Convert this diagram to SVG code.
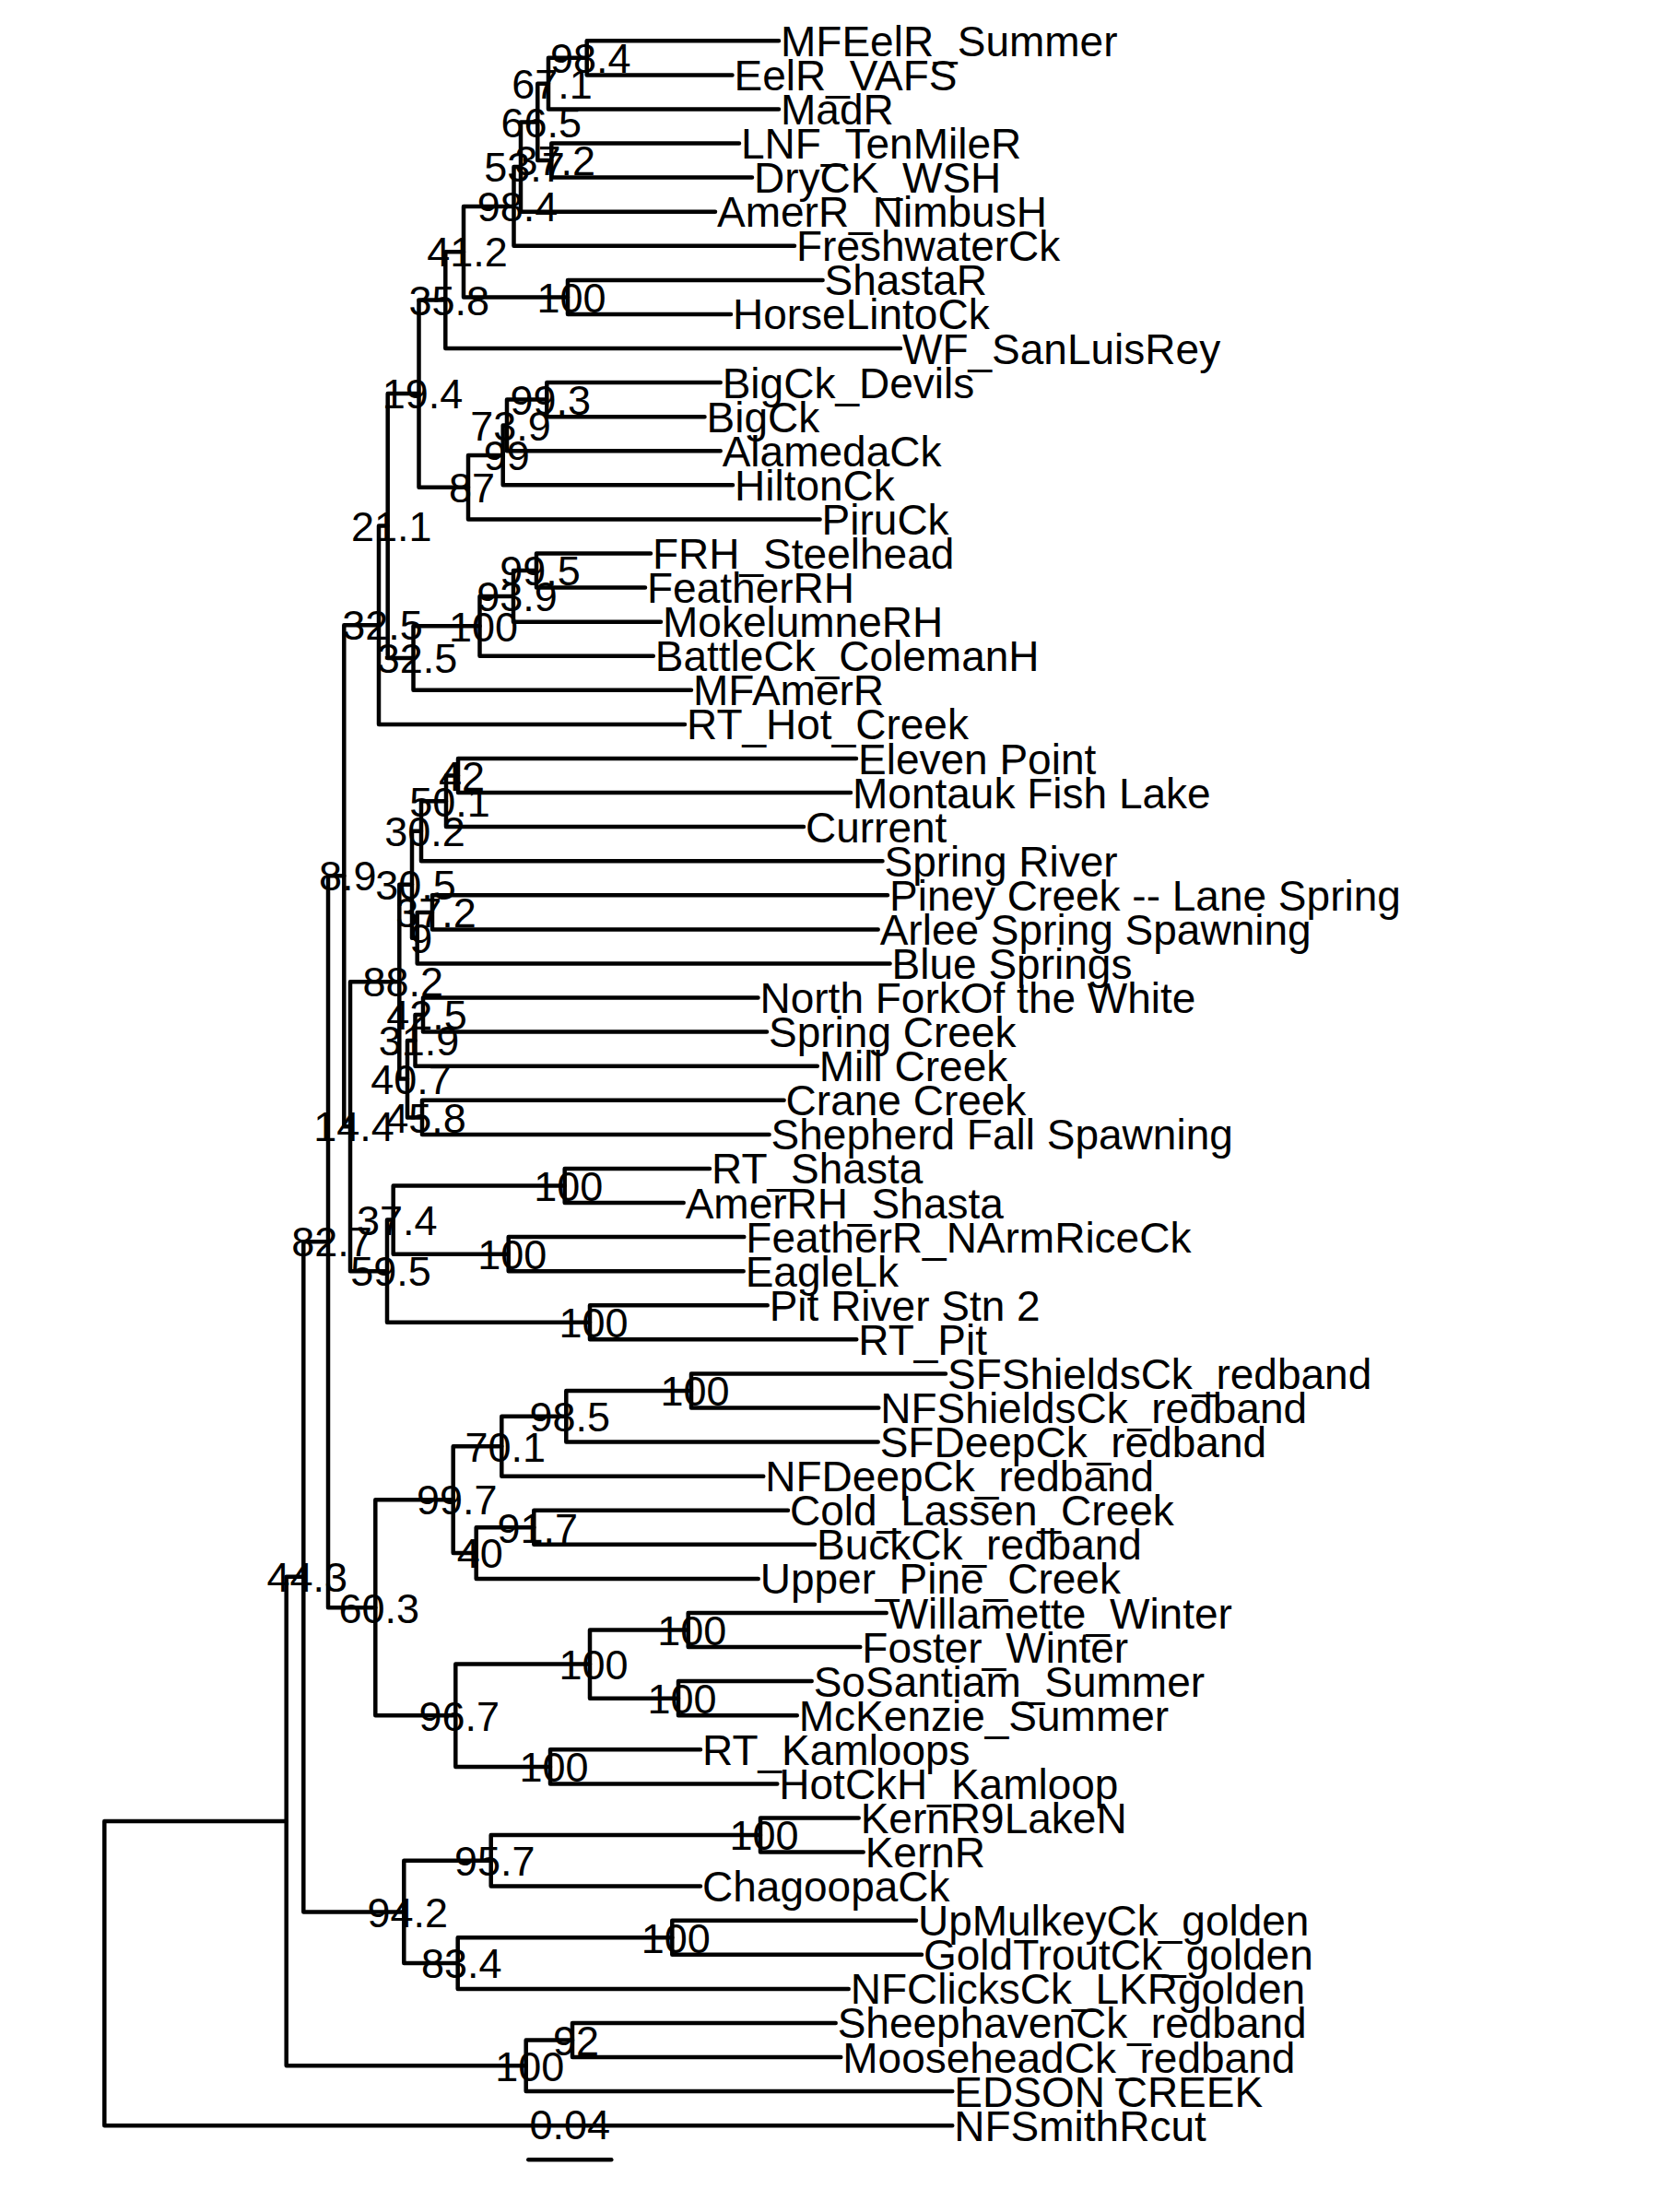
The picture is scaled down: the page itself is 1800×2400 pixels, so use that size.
<svg xmlns="http://www.w3.org/2000/svg" width="1800" height="2400" viewBox="0 0 1800 2400">
<style>
.b{fill:none;stroke:#000;stroke-width:4.5;stroke-linecap:round;stroke-linejoin:round}
.t{font-family:"Liberation Sans",Arial,sans-serif;font-size:46px;fill:#000}
.n{font-family:"Liberation Sans",Arial,sans-serif;font-size:45px;fill:#000;text-anchor:middle}
</style>
<rect width="1800" height="2400" fill="#fff"/>
<g id="connectors">
<path class="b" d="M845 44.3H636.7V81.4H794.5"/>
<path class="b" d="M636.7 62.85H595V118.5H845"/>
<path class="b" d="M802 155.5H598.3V192.6H816"/>
<path class="b" d="M595 90.7H583.3V174.05H598.3"/>
<path class="b" d="M583.3 132.4H565V229.7H776"/>
<path class="b" d="M565 181H557.5V266.8H862"/>
<path class="b" d="M892.6 303.9H616V340.9H793"/>
<path class="b" d="M557.5 223.9H503V322.4H616"/>
<path class="b" d="M503 273.2H483.3V378H977"/>
<path class="b" d="M781.7 415.1H593.3V452.2H764.5"/>
<path class="b" d="M593.3 433.6H550V489.3H781.7"/>
<path class="b" d="M550 461.5H545.7V526.3H795"/>
<path class="b" d="M545.7 493.9H508V563.4H889.6"/>
<path class="b" d="M483.3 325.6H454.5V528.7H508"/>
<path class="b" d="M706 600.5H582V637.6H700"/>
<path class="b" d="M582 619.1H557V674.7H717"/>
<path class="b" d="M557 646.9H520.5V711.7H708.8"/>
<path class="b" d="M520.5 679.3H448.5V748.8H750"/>
<path class="b" d="M454.5 427.1H420.7V714H448.5"/>
<path class="b" d="M420.7 570.6H411V785.9H743"/>
<path class="b" d="M929 823H497V860.1H923"/>
<path class="b" d="M497 841.5H484V897.1H872"/>
<path class="b" d="M484 869.3H457V934.2H957.5"/>
<path class="b" d="M963 971.3H469V1008.4H952.7"/>
<path class="b" d="M469 989.9H452.7V1045.5H965.6"/>
<path class="b" d="M457 901.8H447V1017.7H452.7"/>
<path class="b" d="M822.5 1082.5H459V1119.6H832"/>
<path class="b" d="M459 1101.1H450.5V1156.7H886.8"/>
<path class="b" d="M850.6 1193.8H458V1230.9H834.6"/>
<path class="b" d="M450.5 1128.9H442V1212.4H458"/>
<path class="b" d="M447 959.7H433.3V1170.6H442"/>
<path class="b" d="M770 1267.9H612.7V1305H741.7"/>
<path class="b" d="M807.3 1342.1H551.7V1379.2H806.7"/>
<path class="b" d="M612.7 1286.5H426.7V1360.7H551.7"/>
<path class="b" d="M832.7 1416.3H640V1453.3H929.3"/>
<path class="b" d="M426.7 1323.6H420V1434.8H640"/>
<path class="b" d="M433.3 1065.2H380V1379.2H420"/>
<path class="b" d="M411 678.2H373.3V1222.2H380"/>
<path class="b" d="M1026 1490.4H750V1527.5H953.3"/>
<path class="b" d="M750 1509H614.3V1564.6H952.7"/>
<path class="b" d="M614.3 1536.8H544.3V1601.7H828.3"/>
<path class="b" d="M855 1638.7H579.3V1675.8H884"/>
<path class="b" d="M579.3 1657.3H516.7V1712.9H822.7"/>
<path class="b" d="M544.3 1569.3H491.7V1685.1H516.7"/>
<path class="b" d="M961.7 1750H746.7V1787.1H933.3"/>
<path class="b" d="M880.7 1824.1H736V1861.2H864.8"/>
<path class="b" d="M746.7 1768.6H640V1842.7H736"/>
<path class="b" d="M760 1898.3H597V1935.4H843.3"/>
<path class="b" d="M640 1805.6H494.3V1916.9H597"/>
<path class="b" d="M491.7 1627.2H407.3V1861.3H494.3"/>
<path class="b" d="M373.3 950.2H356V1744.3H407.3"/>
<path class="b" d="M931.7 1972.5H825V2009.5H936.7"/>
<path class="b" d="M825 1991H532.7V2046.6H760"/>
<path class="b" d="M994 2083.7H729.3V2120.8H1000"/>
<path class="b" d="M729.3 2102.3H496.7V2157.9H920.7"/>
<path class="b" d="M532.7 2018.8H438.3V2130.1H496.7"/>
<path class="b" d="M356 1347.2H329.3V2074.4H438.3"/>
<path class="b" d="M906.7 2194.9H621V2232H912.3"/>
<path class="b" d="M621 2213.5H570.7V2269.1H1033.3"/>
<path class="b" d="M329.3 1710.8H310.7V2241.3H570.7"/>
<path class="b" d="M310.7 1976H113.3V2306.2H1033.3"/>
</g>
<g id="tips">
<g id="tip1"><text class="t" x="847" y="44.3" dy="0.36em">MFEelR_Summer</text></g>
<g id="tip2"><text class="t" x="796.5" y="81.4" dy="0.36em">EelR_VAFS</text></g>
<g id="tip3"><text class="t" x="847" y="118.5" dy="0.36em">MadR</text></g>
<g id="tip4"><text class="t" x="804" y="155.5" dy="0.36em">LNF_TenMileR</text></g>
<g id="tip5"><text class="t" x="818" y="192.6" dy="0.36em">DryCK_WSH</text></g>
<g id="tip6"><text class="t" x="778" y="229.7" dy="0.36em">AmerR_NimbusH</text></g>
<g id="tip7"><text class="t" x="864" y="266.8" dy="0.36em">FreshwaterCk</text></g>
<g id="tip8"><text class="t" x="894.6" y="303.9" dy="0.36em">ShastaR</text></g>
<g id="tip9"><text class="t" x="795" y="340.9" dy="0.36em">HorseLintoCk</text></g>
<g id="tip10"><text class="t" x="979" y="378" dy="0.36em">WF_SanLuisRey</text></g>
<g id="tip11"><text class="t" x="783.7" y="415.1" dy="0.36em">BigCk_Devils</text></g>
<g id="tip12"><text class="t" x="766.5" y="452.2" dy="0.36em">BigCk</text></g>
<g id="tip13"><text class="t" x="783.7" y="489.3" dy="0.36em">AlamedaCk</text></g>
<g id="tip14"><text class="t" x="797" y="526.3" dy="0.36em">HiltonCk</text></g>
<g id="tip15"><text class="t" x="891.6" y="563.4" dy="0.36em">PiruCk</text></g>
<g id="tip16"><text class="t" x="708" y="600.5" dy="0.36em">FRH_Steelhead</text></g>
<g id="tip17"><text class="t" x="702" y="637.6" dy="0.36em">FeatherRH</text></g>
<g id="tip18"><text class="t" x="719" y="674.7" dy="0.36em">MokelumneRH</text></g>
<g id="tip19"><text class="t" x="710.8" y="711.7" dy="0.36em">BattleCk_ColemanH</text></g>
<g id="tip20"><text class="t" x="752" y="748.8" dy="0.36em">MFAmerR</text></g>
<g id="tip21"><text class="t" x="745" y="785.9" dy="0.36em">RT_Hot_Creek</text></g>
<g id="tip22"><text class="t" x="931" y="823" dy="0.36em">Eleven Point</text></g>
<g id="tip23"><text class="t" x="925" y="860.1" dy="0.36em">Montauk Fish Lake</text></g>
<g id="tip24"><text class="t" x="874" y="897.1" dy="0.36em">Current</text></g>
<g id="tip25"><text class="t" x="959.5" y="934.2" dy="0.36em">Spring River</text></g>
<g id="tip26"><text class="t" x="965" y="971.3" dy="0.36em">Piney Creek -- Lane Spring</text></g>
<g id="tip27"><text class="t" x="954.7" y="1008.4" dy="0.36em">Arlee Spring Spawning</text></g>
<g id="tip28"><text class="t" x="967.6" y="1045.5" dy="0.36em">Blue Springs</text></g>
<g id="tip29"><text class="t" x="824.5" y="1082.5" dy="0.36em">North ForkOf the White</text></g>
<g id="tip30"><text class="t" x="834" y="1119.6" dy="0.36em">Spring Creek</text></g>
<g id="tip31"><text class="t" x="888.8" y="1156.7" dy="0.36em">Mill Creek</text></g>
<g id="tip32"><text class="t" x="852.6" y="1193.8" dy="0.36em">Crane Creek</text></g>
<g id="tip33"><text class="t" x="836.6" y="1230.9" dy="0.36em">Shepherd Fall Spawning</text></g>
<g id="tip34"><text class="t" x="772" y="1267.9" dy="0.36em">RT_Shasta</text></g>
<g id="tip35"><text class="t" x="743.7" y="1305" dy="0.36em">AmerRH_Shasta</text></g>
<g id="tip36"><text class="t" x="809.3" y="1342.1" dy="0.36em">FeatherR_NArmRiceCk</text></g>
<g id="tip37"><text class="t" x="808.7" y="1379.2" dy="0.36em">EagleLk</text></g>
<g id="tip38"><text class="t" x="834.7" y="1416.3" dy="0.36em">Pit River Stn 2</text></g>
<g id="tip39"><text class="t" x="931.3" y="1453.3" dy="0.36em">RT_Pit</text></g>
<g id="tip40"><text class="t" x="1028" y="1490.4" dy="0.36em">SFShieldsCk_redband</text></g>
<g id="tip41"><text class="t" x="955.3" y="1527.5" dy="0.36em">NFShieldsCk_redband</text></g>
<g id="tip42"><text class="t" x="954.7" y="1564.6" dy="0.36em">SFDeepCk_redband</text></g>
<g id="tip43"><text class="t" x="830.3" y="1601.7" dy="0.36em">NFDeepCk_redband</text></g>
<g id="tip44"><text class="t" x="857" y="1638.7" dy="0.36em">Cold_Lassen_Creek</text></g>
<g id="tip45"><text class="t" x="886" y="1675.8" dy="0.36em">BuckCk_redband</text></g>
<g id="tip46"><text class="t" x="824.7" y="1712.9" dy="0.36em">Upper_Pine_Creek</text></g>
<g id="tip47"><text class="t" x="963.7" y="1750" dy="0.36em">Willamette_Winter</text></g>
<g id="tip48"><text class="t" x="935.3" y="1787.1" dy="0.36em">Foster_Winter</text></g>
<g id="tip49"><text class="t" x="882.7" y="1824.1" dy="0.36em">SoSantiam_Summer</text></g>
<g id="tip50"><text class="t" x="866.8" y="1861.2" dy="0.36em">McKenzie_Summer</text></g>
<g id="tip51"><text class="t" x="762" y="1898.3" dy="0.36em">RT_Kamloops</text></g>
<g id="tip52"><text class="t" x="845.3" y="1935.4" dy="0.36em">HotCkH_Kamloop</text></g>
<g id="tip53"><text class="t" x="933.7" y="1972.5" dy="0.36em">KernR9LakeN</text></g>
<g id="tip54"><text class="t" x="938.7" y="2009.5" dy="0.36em">KernR</text></g>
<g id="tip55"><text class="t" x="762" y="2046.6" dy="0.36em">ChagoopaCk</text></g>
<g id="tip56"><text class="t" x="996" y="2083.7" dy="0.36em">UpMulkeyCk_golden</text></g>
<g id="tip57"><text class="t" x="1002" y="2120.8" dy="0.36em">GoldTroutCk_golden</text></g>
<g id="tip58"><text class="t" x="922.7" y="2157.9" dy="0.36em">NFClicksCk_LKRgolden</text></g>
<g id="tip59"><text class="t" x="908.7" y="2194.9" dy="0.36em">SheephavenCk_redband</text></g>
<g id="tip60"><text class="t" x="914.3" y="2232" dy="0.36em">MooseheadCk_redband</text></g>
<g id="tip61"><text class="t" x="1035.3" y="2269.1" dy="0.36em">EDSON CREEK</text></g>
<g id="tip62"><text class="t" x="1035.3" y="2306.2" dy="0.36em">NFSmithRcut</text></g>
</g>
<g id="nodes">
<g id="n1"><text class="n" x="640.7" y="62.85" dy="0.36em">98.4</text></g>
<g id="n2"><text class="n" x="599" y="90.7" dy="0.36em">67.1</text></g>
<g id="n3"><text class="n" x="602.3" y="174.05" dy="0.36em">37.2</text></g>
<g id="n4"><text class="n" x="587.3" y="132.4" dy="0.36em">66.5</text></g>
<g id="n5"><text class="n" x="569" y="181" dy="0.36em">53.7</text></g>
<g id="n6"><text class="n" x="561.5" y="223.9" dy="0.36em">98.4</text></g>
<g id="n7"><text class="n" x="620" y="322.4" dy="0.36em">100</text></g>
<g id="n8"><text class="n" x="507" y="273.2" dy="0.36em">41.2</text></g>
<g id="n9"><text class="n" x="487.3" y="325.6" dy="0.36em">35.8</text></g>
<g id="n10"><text class="n" x="597.3" y="433.6" dy="0.36em">99.3</text></g>
<g id="n11"><text class="n" x="554" y="461.5" dy="0.36em">73.9</text></g>
<g id="n12"><text class="n" x="549.7" y="493.9" dy="0.36em">99</text></g>
<g id="n13"><text class="n" x="512" y="528.7" dy="0.36em">87</text></g>
<g id="n14"><text class="n" x="458.5" y="427.1" dy="0.36em">19.4</text></g>
<g id="n15"><text class="n" x="586" y="619.1" dy="0.36em">99.5</text></g>
<g id="n16"><text class="n" x="561" y="646.9" dy="0.36em">93.9</text></g>
<g id="n17"><text class="n" x="524.5" y="679.3" dy="0.36em">100</text></g>
<g id="n18"><text class="n" x="452.5" y="714" dy="0.36em">32.5</text></g>
<g id="n19"><text class="n" x="424.7" y="570.6" dy="0.36em">21.1</text></g>
<g id="n20"><text class="n" x="415" y="678.2" dy="0.36em">32.5</text></g>
<g id="n21"><text class="n" x="501" y="841.5" dy="0.36em">42</text></g>
<g id="n22"><text class="n" x="488" y="869.3" dy="0.36em">50.1</text></g>
<g id="n23"><text class="n" x="461" y="901.8" dy="0.36em">30.2</text></g>
<g id="n24"><text class="n" x="473" y="989.9" dy="0.36em">37.2</text></g>
<g id="n25"><text class="n" x="456.7" y="1017.7" dy="0.36em">9</text></g>
<g id="n26"><text class="n" x="451" y="959.7" dy="0.36em">30.5</text></g>
<g id="n27"><text class="n" x="463" y="1101.1" dy="0.36em">42.5</text></g>
<g id="n28"><text class="n" x="454.5" y="1128.9" dy="0.36em">31.9</text></g>
<g id="n29"><text class="n" x="462" y="1212.4" dy="0.36em">45.8</text></g>
<g id="n30"><text class="n" x="446" y="1170.6" dy="0.36em">40.7</text></g>
<g id="n31"><text class="n" x="437.3" y="1065.2" dy="0.36em">88.2</text></g>
<g id="n32"><text class="n" x="616.7" y="1286.5" dy="0.36em">100</text></g>
<g id="n33"><text class="n" x="555.7" y="1360.7" dy="0.36em">100</text></g>
<g id="n34"><text class="n" x="430.7" y="1323.6" dy="0.36em">37.4</text></g>
<g id="n35"><text class="n" x="644" y="1434.8" dy="0.36em">100</text></g>
<g id="n36"><text class="n" x="424" y="1379.2" dy="0.36em">59.5</text></g>
<g id="n37"><text class="n" x="384" y="1222.2" dy="0.36em">14.4</text></g>
<g id="n38"><text class="n" x="377.3" y="950.2" dy="0.36em">8.9</text></g>
<g id="n39"><text class="n" x="754" y="1509" dy="0.36em">100</text></g>
<g id="n40"><text class="n" x="618.3" y="1536.8" dy="0.36em">98.5</text></g>
<g id="n41"><text class="n" x="548.3" y="1569.3" dy="0.36em">70.1</text></g>
<g id="n42"><text class="n" x="583.3" y="1657.3" dy="0.36em">91.7</text></g>
<g id="n43"><text class="n" x="520.7" y="1685.1" dy="0.36em">40</text></g>
<g id="n44"><text class="n" x="495.7" y="1627.2" dy="0.36em">99.7</text></g>
<g id="n45"><text class="n" x="750.7" y="1768.6" dy="0.36em">100</text></g>
<g id="n46"><text class="n" x="740" y="1842.7" dy="0.36em">100</text></g>
<g id="n47"><text class="n" x="644" y="1805.6" dy="0.36em">100</text></g>
<g id="n48"><text class="n" x="601" y="1916.9" dy="0.36em">100</text></g>
<g id="n49"><text class="n" x="498.3" y="1861.3" dy="0.36em">96.7</text></g>
<g id="n50"><text class="n" x="411.3" y="1744.3" dy="0.36em">60.3</text></g>
<g id="n51"><text class="n" x="360" y="1347.2" dy="0.36em">82.7</text></g>
<g id="n52"><text class="n" x="829" y="1991" dy="0.36em">100</text></g>
<g id="n53"><text class="n" x="536.7" y="2018.8" dy="0.36em">95.7</text></g>
<g id="n54"><text class="n" x="733.3" y="2102.3" dy="0.36em">100</text></g>
<g id="n55"><text class="n" x="500.7" y="2130.1" dy="0.36em">83.4</text></g>
<g id="n56"><text class="n" x="442.3" y="2074.4" dy="0.36em">94.2</text></g>
<g id="n57"><text class="n" x="333.3" y="1710.8" dy="0.36em">44.3</text></g>
<g id="n58"><text class="n" x="625" y="2213.5" dy="0.36em">92</text></g>
<g id="n59"><text class="n" x="574.7" y="2241.3" dy="0.36em">100</text></g>
</g>
<g id="scalebar">
<line class="b" x1="573.3" y1="2343.3" x2="663.3" y2="2343.3"/>
<text class="n" x="618.3" y="2321">0.04</text>
</g>
</svg>
